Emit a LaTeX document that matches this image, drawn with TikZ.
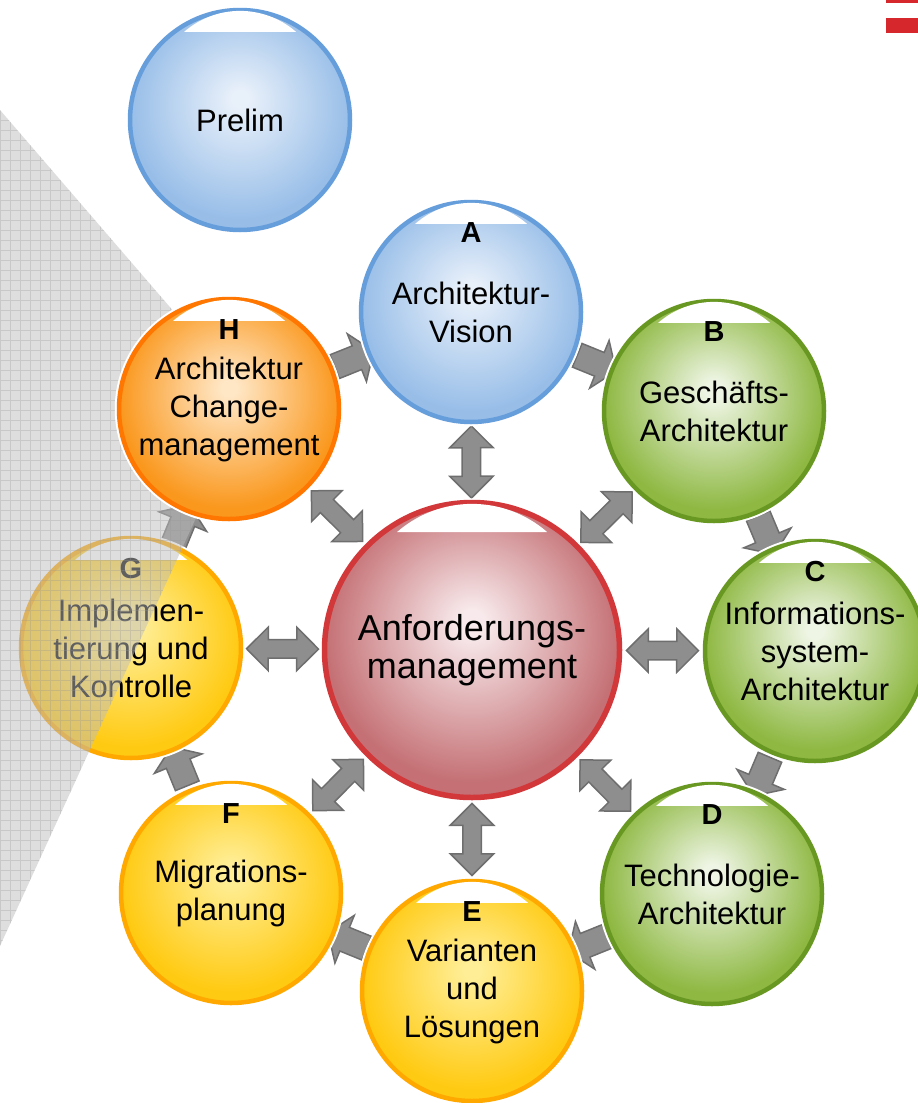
\documentclass[tikz,border=0pt]{standalone}
\usepackage{fontspec}
\setmainfont{Liberation Sans}
\usetikzlibrary{shapes.geometric}
\usetikzlibrary{shapes.arrows}

\definecolor{blaufill}{RGB}{152,190,232}
\definecolor{blauhell}{RGB}{232,240,250}
\definecolor{blaurand}{RGB}{102,158,220}
\definecolor{gruenfill}{RGB}{142,184,66}
\definecolor{gruenhell}{RGB}{238,245,228}
\definecolor{gruenrand}{RGB}{104,152,34}
\definecolor{orangefill}{RGB}{250,152,30}
\definecolor{orangehell}{RGB}{255,230,196}
\definecolor{orangerand}{RGB}{255,118,0}
\definecolor{gelbfill}{RGB}{255,202,18}
\definecolor{gelbhell}{RGB}{255,238,150}
\definecolor{gelbrand}{RGB}{255,168,0}
\definecolor{rotfill}{RGB}{196,112,116}
\definecolor{rothell}{RGB}{248,234,236}
\definecolor{rotrand}{RGB}{210,55,58}
\definecolor{pfeilgrau}{RGB}{142,142,142}
\definecolor{pfeilrand}{RGB}{110,110,110}
\definecolor{rastergrau}{RGB}{190,190,190}
\definecolor{rasterlinie}{RGB}{150,150,150}
\definecolor{flaggenrot}{RGB}{214,40,44}

\pgfdeclareradialshading{kugelblau}{\pgfpoint{0bp}{5bp}}{color(0bp)=(blauhell); color(2bp)=(blauhell); color(25bp)=(blaufill); color(50bp)=(blaufill)}
\pgfdeclareradialshading{kugelgruen}{\pgfpoint{0bp}{5bp}}{color(0bp)=(gruenhell); color(2bp)=(gruenhell); color(25bp)=(gruenfill); color(50bp)=(gruenfill)}
\pgfdeclareradialshading{kugelorange}{\pgfpoint{0bp}{5bp}}{color(0bp)=(orangehell); color(2bp)=(orangehell); color(25bp)=(orangefill); color(50bp)=(orangefill)}
\pgfdeclareradialshading{kugelgelb}{\pgfpoint{0bp}{5bp}}{color(0bp)=(gelbhell); color(2bp)=(gelbhell); color(25bp)=(gelbfill); color(50bp)=(gelbfill)}
\pgfdeclareradialshading{kugelrot}{\pgfpoint{0bp}{5bp}}{color(0bp)=(rothell); color(2bp)=(rothell); color(25bp)=(rotfill); color(50bp)=(rotfill)}

\newcommand{\phasefont}{\fontsize{31}{38}\selectfont}
\newcommand{\kernfont}{\fontsize{36}{38}\selectfont}
\newcommand{\buchstfont}{\fontsize{29}{30}\selectfont\bfseries}

\tikzstyle{phase} = [circle, minimum size=220pt, inner sep=0pt, line width=4.5pt, align=center, font=\phasefont, shade, preaction={draw=white, line width=8.5pt}]
\tikzstyle{phaseblau} = [phase, draw=blaurand, shading=kugelblau]
\tikzstyle{phasegruen} = [phase, draw=gruenrand, shading=kugelgruen]
\tikzstyle{phaseorange} = [phase, draw=orangerand, shading=kugelorange]
\tikzstyle{phasegelb} = [phase, draw=gelbrand, shading=kugelgelb]
\tikzstyle{kern} = [phase, minimum size=295pt, line width=5.5pt, font=\kernfont, draw=rotrand, shading=kugelrot]
\tikzstyle{buchst} = [inner sep=0pt, font=\buchstfont]
\tikzstyle{doppelpfeil} = [double arrow, draw=pfeilrand, fill=pfeilgrau, line width=1.5pt, minimum height=72pt, inner xsep=0pt, inner ysep=8.5pt, double arrow head extend=12.5pt]
\tikzstyle{zykluspfeil} = [single arrow, draw=pfeilrand, fill=pfeilgrau, line width=1.5pt, minimum height=42pt, inner xsep=0pt, inner ysep=12pt, single arrow head extend=13pt, single arrow tip angle=110]

% weisse Glanzkappe oben im Kreis
\newcommand{\glanz}[2]{\fill[white] ([xshift={-0.5*#2pt}, yshift={0.786*#2pt}]#1.center) arc[start angle=131.2, end angle=48.8, radius={0.76*#2pt}] -- cycle;}

\pgfdeclarelayer{pfeile}
\pgfdeclarelayer{unten}
\pgfdeclarelayer{raster}
\pgfsetlayers{pfeile,unten,raster,main}

\begin{document}
\begin{tikzpicture}[x=1pt, y=-1pt]
    \useasboundingbox (0,0) rectangle (918,1103);

    \fill[flaggenrot] (886,0) rectangle (918,3.3);
    \fill[flaggenrot] (886,18.3) rectangle (918,33.3);

    \node[phaseblau] (prelim) at (240,120) {Prelim};
    \node[phaseblau] (vision) at (471,312) {Architektur-\\Vision};
    \node[phasegruen] (geschaeft) at (714,411) {Geschäfts-\\Architektur};
    \node[phasegruen] (infosys) at (815,651) {Informations-\\system-\\Architektur};
    \node[phasegruen] (technologie) at (712,894) {Technologie-\\Architektur};
    \node[phasegelb] (varianten) at (472,991) {Varianten\\und\\Lösungen};
    \node[phasegelb] (migration) at (231,893) {Migrations-\\planung};
    \node[phaseorange] (change) at (229,409) {Architektur\\Change-\\management};
    \node[kern] (anforderung) at (472,650) {Anforderungs-\\management};

    \begin{pgfonlayer}{unten}
        \node[phasegelb] (implement) at (131,648) {Implemen-\\tierung und\\Kontrolle};
        \glanz{implement}{112}
        \node[buchst] (implement-b) at ([yshift=79pt]implement.center) {G};
    \end{pgfonlayer}

    \glanz{prelim}{112}
    \glanz{anforderung}{150}
    \foreach \n/\b in {vision/A, geschaeft/B, infosys/C, technologie/D, varianten/E, migration/F, change/H} {
        \glanz{\n}{112}
        \node[buchst] (\n-b) at ([yshift=79pt]\n.center) {\b};
    }

    \begin{pgfonlayer}{pfeile}
        \foreach \von/\nach in {change/vision, vision/geschaeft, geschaeft/infosys, infosys/technologie, technologie/varianten, varianten/migration, migration/implement, implement/change}
            \path (\von) -- (\nach) node[zykluspfeil, midway, sloped, allow upside down] (z-\von) {};
        \foreach \n in {vision, geschaeft, infosys, technologie, varianten, migration, implement, change}
            \path (anforderung) -- (\n) node[doppelpfeil, midway, sloped] (d-\n) {};
    \end{pgfonlayer}

    % Rasterdreieck links
    \begin{pgfonlayer}{raster}
        \begin{scope}
            \clip (0,110) -- (250,400) -- (0,946) -- cycle;
            \fill[rastergrau, fill opacity=0.5] (0,100) rectangle (260,960);
            \draw[rasterlinie, draw opacity=0.3, line width=0.8pt, step=10pt] (0,100) grid (260,960);
        \end{scope}
    \end{pgfonlayer}
\end{tikzpicture}
\end{document}
